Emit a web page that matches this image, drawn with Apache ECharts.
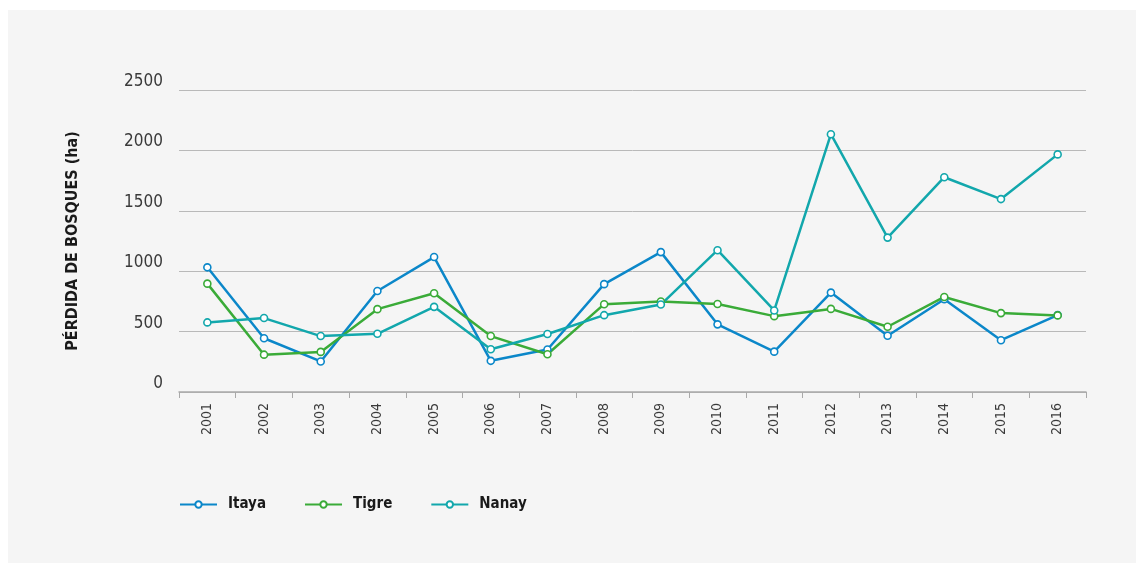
<!DOCTYPE html>
<html>
<head>
<meta charset="utf-8">
<script src="https://cdn.jsdelivr.net/npm/echarts@6/dist/echarts.min.js"></script>
<style>
html,body{margin:0;padding:0;background:#ffffff;}
#chart{width:1136px;height:563px;}
</style>
</head>
<body>
<div id="chart"></div>
<script>
var years = ['2001','2002','2003','2004','2005','2006','2007','2008','2009','2010','2011','2012','2013','2014','2015','2016'];
var itaya = [1032, 445, 253, 836, 1117, 258, 352, 893, 1158, 560, 334, 823, 466, 768, 429, 637];
var tigre = [897, 309, 332, 686, 817, 463, 313, 727, 749, 729, 628, 688, 540, 787, 653, 634];
var nanay = [576, 612, 463, 482, 705, 354, 480, 636, 724, 1174, 675, 2134, 1278, 1778, 1597, 1967];
var yTicks = [0, 500, 1000, 1500, 2000, 2500];
var seriesNames = ['Itaya', 'Tigre', 'Nanay'];
var colors = ['#0b87c9', '#3aab38', '#12a7ac'];

var font = "'DejaVu Sans', sans-serif";
var chart = echarts.init(document.getElementById('chart'), null, {renderer: 'canvas'});

function mkSeries(name, data, color) {
  return {
    name: name,
    type: 'line',
    data: data,
    symbol: 'circle',
    symbolSize: 7,
    itemStyle: {color: '#ffffff', borderColor: color, borderWidth: 1.6},
    lineStyle: {color: color, width: 2.5},
    emphasis: {disabled: true},
    animation: false
  };
}

chart.setOption({
  backgroundColor: '#ffffff',
  graphic: [{
    type: 'rect', left: 8, top: 10, z: -10,
    shape: {width: 1128, height: 553},
    style: {fill: '#f5f5f5'}
  }],
  color: colors,
  grid: {left: 179, right: 50, top: 90, bottom: 171, containLabel: false},
  legend: {
    left: 179, top: 497, padding: 0,
    itemWidth: 37, itemHeight: 8, itemGap: 38,
    data: seriesNames,
    textStyle: {fontFamily: font, fontSize: 15, fontWeight: 'bold condensed', color: '#1a1a1a', padding: [0, 0, 0, 6]}
  },
  xAxis: {
    type: 'category',
    data: years,
    boundaryGap: true,
    axisLine: {lineStyle: {color: '#a9a9a9', width: 1.5}},
    axisTick: {show: true, length: 6, lineStyle: {color: '#a9a9a9', width: 1}},
    axisLabel: {rotate: 90, fontFamily: font, fontSize: 14, fontWeight: 'normal condensed', color: '#3a3a3a', margin: 11}
  },
  yAxis: {
    type: 'value',
    min: yTicks[0], max: yTicks[yTicks.length - 1], interval: 500,
    name: 'PÉRDIDA DE BOSQUES (ha)',
    nameLocation: 'middle',
    nameGap: 98,
    nameRotate: 90,
    nameTextStyle: {fontFamily: font, fontSize: 16, fontWeight: 'bold condensed', color: '#1a1a1a'},
    axisLine: {show: false},
    axisTick: {show: false},
    axisLabel: {fontFamily: font, fontSize: 17, fontWeight: 'normal condensed', color: '#3a3a3a', margin: 16, verticalAlign: 'bottom',
      formatter: function (v) { return String(v); }},
    splitLine: {lineStyle: {color: '#b9b9b9', width: 1}}
  },
  series: [
    mkSeries(seriesNames[0], itaya, colors[0]),
    mkSeries(seriesNames[1], tigre, colors[1]),
    mkSeries(seriesNames[2], nanay, colors[2])
  ]
});
</script>
</body>
</html>
